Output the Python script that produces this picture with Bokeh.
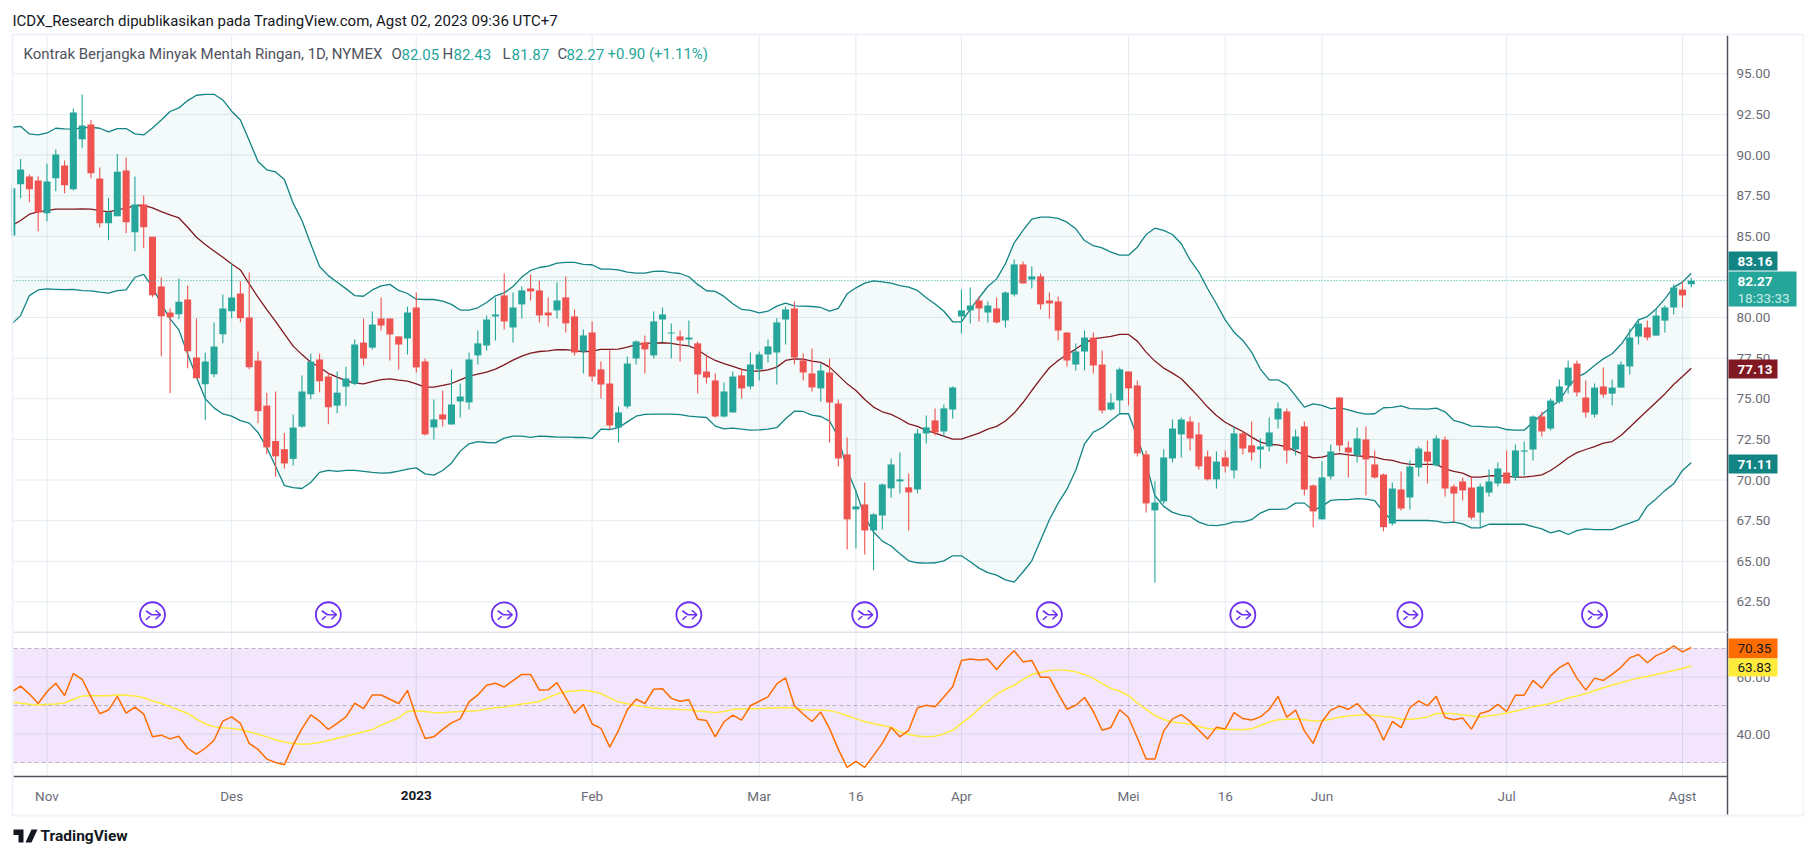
from bokeh.plotting import figure
from bokeh.models import (Range1d, FixedTicker, NumeralTickFormatter, BoxAnnotation, Label,
                          PolyAnnotation, LinearAxis)
from bokeh.embed import file_html
from bokeh.resources import INLINE
import numpy as np

# ---------- data (first value = partly hidden candle at left edge) ----------
opens = [85.05,
 88.21,88.68,88.43,86.42,88.57,89.35,87.90,90.97,91.88,88.55,
 85.81,86.24,89.05,85.25,86.95,84.98,81.91,80.31,80.20,81.11,
 77.54,75.90,76.51,78.97,80.39,81.48,80.00,77.35,74.58,72.40,
 71.90,71.30,73.29,75.28,77.42,76.37,74.58,75.75,75.92,78.46,
 78.15,79.94,79.94,78.84,78.71,80.62,77.30,73.24,74.04,73.42,
 74.84,74.78,77.67,78.28,80.07,81.36,79.39,80.81,81.79,81.67,
 80.31,80.44,81.24,80.07,77.91,79.08,76.81,75.94,73.24,74.53,
 77.48,78.47,77.67,79.88,79.02,78.84,78.65,78.41,76.68,76.13,
 73.91,74.16,76.44,75.76,76.81,77.73,77.85,79.88,80.56,77.36,
 76.56,75.64,76.62,74.71,71.58,68.19,68.50,66.90,67.82,69.49,
 69.92,69.55,69.42,72.87,73.67,72.99,74.34,80.07,80.44,81.05,
 80.31,80.56,79.82,81.42,83.27,82.34,82.53,81.05,80.99,79.08,
 77.11,77.91,78.77,77.11,74.34,74.90,76.68,75.82,71.58,68.13,
 68.69,71.33,72.81,73.60,72.81,71.45,70.04,71.39,70.59,72.87,
 72.13,71.88,72.07,73.73,74.22,71.88,73.30,69.67,67.58,70.22,
 75.08,72.00,71.51,72.50,70.96,70.34,67.32,69.42,68.93,70.77,
 71.75,70.89,72.49,69.60,69.91,69.54,68.00,69.23,69.79,70.46,
 70.16,71.75,71.88,73.91,73.17,74.83,75.82,77.17,75.08,74.03,
 75.76,75.32,75.69,76.99,78.83,79.39,78.89,79.81,80.62,81.72,82.05]
closes = [87.95,
 89.11,87.90,86.46,88.37,90.03,88.14,92.62,91.82,88.88,85.81,
 86.48,88.98,85.87,86.95,85.56,81.37,80.08,80.02,80.98,77.93,
 76.27,77.29,78.22,80.55,81.23,79.96,76.94,74.24,72.01,71.46,
 71.02,73.23,75.45,77.29,76.08,74.48,75.38,76.25,78.34,77.48,
 79.57,79.51,78.96,78.34,80.31,76.93,72.81,73.73,73.73,74.65,
 75.14,77.42,78.41,79.88,80.19,79.76,80.62,81.67,81.61,80.13,
 80.13,81.05,79.64,77.85,78.90,76.37,75.88,73.36,74.16,77.17,
 78.53,78.04,79.76,80.19,79.08,78.59,78.77,76.50,76.31,73.91,
 75.45,76.37,75.64,77.11,77.73,78.22,79.70,80.50,77.54,76.62,
 75.70,76.74,74.77,71.33,67.58,68.38,66.90,67.89,69.73,70.96,
 70.04,69.24,72.87,73.24,72.93,74.41,75.70,80.44,80.74,80.56,
 80.74,79.70,81.54,83.27,82.10,82.53,80.81,80.87,79.20,77.36,
 77.91,78.77,77.05,74.28,74.77,76.81,75.64,71.64,68.56,68.62,
 71.39,73.17,73.73,72.56,70.84,70.04,71.14,70.84,72.87,71.94,
 71.70,72.07,72.93,74.41,71.82,72.68,69.42,68.07,70.16,71.76,
 72.13,71.70,72.56,71.27,70.16,67.10,69.48,68.25,70.83,71.94,
 71.14,72.56,69.48,69.17,69.36,67.69,69.60,69.91,70.71,69.79,
 71.82,71.82,73.91,72.99,74.89,75.76,76.92,75.39,74.16,75.69,
 75.26,75.69,77.11,78.77,79.63,78.77,80.12,80.62,81.85,81.36,82.27]
highs = [88.20,
 89.76,88.80,88.68,89.46,90.34,89.66,92.86,93.72,92.16,89.23,
 87.38,90.07,89.85,88.68,87.51,84.98,82.46,80.55,82.40,81.97,
 79.94,77.85,79.69,81.42,83.34,82.24,82.77,77.91,75.38,75.45,
 72.90,74.03,76.43,77.78,77.78,76.62,76.68,76.98,78.65,79.94,
 80.37,81.24,79.94,78.84,80.68,81.54,77.48,74.96,75.51,76.81,
 75.94,77.85,79.20,80.13,81.24,82.71,81.54,81.91,82.65,82.28,
 81.24,82.16,82.53,80.50,79.27,79.76,77.30,77.97,74.53,77.61,
 78.59,78.90,80.37,80.62,79.64,79.20,79.82,78.53,77.73,76.56,
 76.00,76.68,76.87,77.85,77.91,78.65,79.95,80.68,80.99,77.79,
 78.10,77.17,77.48,74.96,72.62,69.36,69.85,67.95,69.79,71.33,
 71.70,70.41,73.12,73.97,74.41,74.65,75.76,81.73,81.85,81.30,
 80.99,81.24,81.61,83.57,83.45,83.14,82.71,81.54,81.30,79.08,
 78.41,79.20,79.08,77.97,75.33,76.93,76.68,76.13,71.82,69.92,
 71.89,73.73,73.85,73.91,73.54,71.82,71.76,71.82,73.30,72.99,
 73.60,72.56,73.85,74.77,74.41,73.11,73.60,69.73,71.15,72.19,
 75.08,72.37,73.24,73.30,71.82,70.40,69.85,70.52,71.20,72.06,
 72.43,72.74,72.68,69.72,70.16,70.22,69.79,70.65,71.08,71.82,
 72.19,72.37,73.97,74.22,75.02,76.19,77.36,77.36,76.13,75.94,
 76.92,76.19,77.29,79.32,79.94,79.82,80.56,80.74,82.03,82.22,82.43]
lows = [84.90,
 87.34,87.10,85.31,85.93,87.77,87.65,87.82,90.42,88.57,85.56,
 84.76,86.24,85.19,84.08,84.27,81.25,77.62,75.34,79.90,76.88,
 76.27,73.68,76.33,78.42,79.96,79.71,76.82,73.50,71.60,70.20,
 70.70,70.90,73.23,74.97,75.41,73.44,74.11,74.54,75.84,77.05,
 78.03,79.21,77.36,76.81,77.73,76.62,72.74,72.50,73.30,73.42,
 73.85,74.34,77.11,77.97,78.59,79.27,78.47,79.94,81.05,79.70,
 79.45,79.94,79.08,77.67,76.56,76.07,75.02,73.11,72.31,74.41,
 77.11,76.56,77.48,78.47,77.48,77.30,78.22,75.33,75.94,73.85,
 73.85,74.16,75.02,75.57,76.13,77.24,75.88,78.34,77.11,76.13,
 75.45,74.84,72.31,70.84,65.73,65.79,65.42,64.44,66.96,68.93,
 69.18,66.90,69.18,72.25,72.74,72.68,73.79,79.02,79.64,79.76,
 79.70,79.64,79.39,81.30,82.10,81.79,80.50,79.94,78.59,76.99,
 76.74,76.74,76.56,74.10,74.30,74.08,74.59,71.45,68.01,63.70,
 68.54,71.08,71.39,71.82,70.65,69.97,69.48,70.47,70.10,71.57,
 71.21,70.71,71.76,73.17,71.02,71.51,69.05,67.09,67.58,70.04,
 71.76,70.16,71.08,69.05,70.10,66.85,67.20,68.13,68.19,70.22,
 69.79,70.83,68.99,67.39,68.74,67.57,67.08,68.99,69.60,69.79,
 69.97,70.28,71.20,72.68,73.05,74.71,75.33,75.14,73.85,73.85,
 75.08,74.59,75.69,76.49,78.34,78.59,78.89,79.08,80.19,80.62,81.87]
bb_upper = [91.71,
 91.77,91.30,91.24,91.36,91.65,91.61,91.59,91.67,91.71,91.65,
 91.43,91.63,91.63,91.30,91.24,91.67,92.16,92.68,92.90,93.35,
 93.68,93.74,93.74,93.39,92.70,92.16,90.89,89.60,89.09,88.96,
 88.49,87.04,85.97,84.53,83.14,82.58,82.17,81.78,81.35,81.31,
 81.70,81.95,82.04,81.67,81.48,81.13,81.11,81.11,81.01,80.81,
 80.46,80.46,80.60,80.93,81.34,81.52,81.91,82.49,82.90,83.08,
 83.16,83.35,83.39,83.39,83.27,83.25,82.98,82.98,82.94,82.80,
 82.73,82.73,82.84,82.86,82.77,82.71,82.51,82.04,81.65,81.61,
 81.30,80.85,80.50,80.44,80.29,80.39,80.70,80.89,80.72,80.70,
 80.68,80.62,80.39,80.56,81.46,81.83,82.12,82.26,82.20,82.12,
 81.97,81.87,81.67,81.22,80.83,80.39,79.74,79.74,80.50,81.22,
 81.91,82.38,83.31,84.60,85.36,86.06,86.18,86.18,86.10,85.87,
 85.46,84.74,84.42,84.29,84.03,83.84,83.84,84.33,85.11,85.50,
 85.36,85.11,84.54,83.55,82.80,81.77,80.85,79.86,79.10,78.59,
 77.87,76.83,76.17,76.17,75.86,75.18,74.49,74.69,74.59,74.40,
 74.45,74.32,74.16,74.06,74.08,74.45,74.47,74.57,74.40,74.38,
 74.36,74.42,74.20,73.67,73.52,73.32,73.30,73.26,73.26,73.11,
 73.07,73.07,73.56,74.03,74.48,74.89,75.71,76.33,76.60,77.05,
 77.46,77.77,78.34,79.10,79.86,80.06,80.53,81.15,81.87,82.18,82.73]
bb_basis = [85.66,
 85.97,86.36,86.50,86.58,86.67,86.67,86.67,86.69,86.67,86.58,
 86.50,86.63,86.73,86.89,86.91,86.75,86.52,86.32,86.13,85.56,
 84.94,84.49,84.10,83.71,83.30,82.93,82.07,81.25,80.49,79.77,
 79.00,78.24,77.72,77.25,76.94,76.57,76.33,76.12,75.96,75.92,
 76.06,76.18,76.23,76.15,76.09,75.92,75.72,75.72,75.82,75.94,
 76.17,76.39,76.52,76.64,76.83,77.09,77.38,77.63,77.81,77.91,
 77.95,78.02,78.02,77.97,77.89,77.93,78.04,78.04,78.06,78.18,
 78.34,78.41,78.43,78.45,78.41,78.32,78.26,78.02,77.65,77.36,
 77.17,76.99,76.81,76.70,76.70,76.78,76.95,77.36,77.46,77.44,
 77.32,77.24,76.95,76.44,75.92,75.51,74.96,74.49,74.20,74.04,
 73.77,73.46,73.30,73.05,72.89,72.70,72.52,72.52,72.70,72.89,
 73.13,73.30,73.63,74.12,74.77,75.51,76.23,76.91,77.36,77.73,
 78.06,78.43,78.69,78.77,78.84,78.96,78.96,78.55,77.87,77.32,
 76.89,76.58,76.23,75.68,75.10,74.49,73.97,73.56,73.26,72.99,
 72.64,72.33,72.19,72.17,72.03,71.78,71.57,71.37,71.41,71.55,
 71.62,71.55,71.49,71.45,71.41,71.27,71.21,71.06,70.96,70.96,
 70.96,70.96,70.69,70.53,70.43,70.18,70.18,70.26,70.28,70.24,
 70.18,70.18,70.24,70.32,70.59,70.96,71.37,71.69,71.88,72.06,
 72.27,72.37,72.74,73.25,73.77,74.28,74.79,75.30,75.88,76.37,76.88]
bb_lower = [79.61,
 80.12,81.35,81.70,81.76,81.74,81.72,81.74,81.66,81.64,81.56,
 81.50,81.66,81.70,82.48,82.65,81.87,80.84,79.92,79.24,77.76,
 76.33,75.00,74.44,74.07,73.93,73.66,73.50,72.93,72.00,70.83,
 69.66,69.54,69.48,69.85,70.47,70.59,70.53,70.59,70.59,70.53,
 70.47,70.43,70.45,70.55,70.67,70.75,70.38,70.30,70.59,71.04,
 71.78,72.23,72.37,72.31,72.29,72.58,72.70,72.70,72.62,72.70,
 72.68,72.64,72.64,72.62,72.62,72.56,73.13,73.11,73.22,73.58,
 73.93,74.04,74.06,74.06,74.06,74.02,73.93,73.89,73.85,73.32,
 73.15,73.20,73.13,73.07,73.09,73.13,73.22,73.77,74.24,74.22,
 73.99,73.91,73.63,72.64,70.60,69.32,67.72,66.80,66.24,65.94,
 65.47,65.03,64.91,64.89,64.91,65.03,65.34,65.34,64.97,64.58,
 64.30,64.15,63.86,63.72,64.34,65.03,66.29,67.56,68.58,69.44,
 70.60,72.23,72.95,73.22,73.67,74.08,74.08,72.64,71.00,69.05,
 68.38,68.01,67.84,67.76,67.41,67.23,67.19,67.27,67.43,67.43,
 67.56,67.97,68.19,68.19,68.23,68.58,68.58,68.13,68.38,68.75,
 68.79,68.80,68.86,68.82,68.74,68.02,67.51,67.51,67.51,67.51,
 67.51,67.47,67.37,67.41,67.30,67.06,67.06,67.28,67.28,67.28,
 67.28,67.28,67.14,67.00,66.75,66.89,66.65,66.89,67.00,66.95,
 66.95,66.95,67.16,67.35,67.55,68.39,68.84,69.35,69.77,70.59,71.06]
rsi = [54.8,
 56.8,54.0,50.7,54.8,57.8,53.5,61.2,59.2,53.0,47.1,
 48.4,53.2,47.3,49.4,47.0,39.0,39.6,38.3,39.2,35.0,
 32.9,35.0,37.8,44.5,46.0,43.7,36.7,34.6,31.2,30.0,
 29.2,36.1,41.9,46.7,44.5,41.6,43.7,46.0,50.8,48.9,
 53.7,53.7,52.2,50.7,55.3,46.0,38.4,39.0,41.6,43.9,
 45.3,51.3,53.7,57.1,57.8,56.5,58.7,60.9,60.9,55.4,
 55.5,58.0,52.7,47.3,50.4,43.5,42.0,35.4,41.3,48.5,
 52.2,50.7,55.7,55.9,52.5,51.5,52.0,45.2,44.7,39.0,
 44.3,46.6,44.9,49.9,51.5,53.0,57.6,59.7,49.9,47.0,
 44.4,47.7,41.9,34.6,28.3,30.4,28.3,32.5,36.7,42.3,
 39.0,41.3,49.2,50.1,49.6,53.0,56.6,65.8,66.3,66.0,
 66.2,62.6,66.2,69.2,65.3,65.8,59.9,59.9,54.2,48.7,
 50.1,52.8,47.9,41.3,42.3,48.5,45.8,38.7,31.2,31.2,
 41.1,45.3,46.8,44.4,41.3,38.3,42.4,41.8,47.5,45.4,
 44.9,46.0,48.6,53.2,45.9,48.4,41.1,36.7,44.3,48.4,
 49.8,48.6,50.7,47.4,44.5,37.8,44.4,42.2,49.2,51.6,
 49.9,53.2,45.8,45.0,45.6,41.7,47.2,48.1,50.4,47.9,
 53.6,53.6,58.8,56.1,60.4,63.3,65.0,59.6,55.4,59.6,
 58.8,60.9,63.4,66.7,67.9,65.0,67.5,68.8,70.9,68.8,70.35]
rsi_ma = [51.2,
 50.8,50.4,50.1,50.4,50.5,50.9,52.2,53.3,53.4,53.4,
 53.4,53.7,53.6,53.3,52.7,51.6,50.7,49.6,48.4,47.2,
 45.2,43.6,42.5,42.2,41.9,41.6,40.8,39.9,39.0,38.0,
 37.2,36.7,36.4,36.6,37.0,37.7,38.5,39.2,40.0,40.8,
 41.6,43.1,44.4,45.7,47.9,48.2,47.9,47.5,47.5,47.7,
 47.9,48.1,48.2,48.8,49.2,49.5,50.0,50.5,50.9,51.4,
 52.8,54.0,54.8,55.1,55.4,54.9,54.2,52.7,51.2,50.6,
 50.0,49.5,49.1,48.9,48.8,48.6,48.5,48.1,47.8,47.5,
 47.9,48.6,48.8,48.9,48.9,49.1,49.2,49.3,49.1,48.5,
 48.4,48.4,48.2,47.5,46.5,45.3,44.4,43.6,43.0,42.4,
 40.8,39.8,39.3,39.0,39.2,40.0,41.3,43.7,46.0,48.9,
 51.4,53.9,55.7,57.1,59.1,60.9,61.6,62.3,62.5,62.3,
 61.8,60.9,59.5,57.7,56.0,55.0,53.5,50.9,48.6,46.5,
 45.1,44.2,43.9,43.5,42.6,41.9,41.7,41.7,41.6,41.5,
 41.8,43.0,44.2,45.0,45.2,45.3,45.0,44.6,44.7,45.2,
 45.9,46.3,46.6,46.8,46.5,46.1,45.9,45.2,45.2,45.4,
 46.0,47.2,47.3,47.1,46.7,46.3,46.0,46.4,46.8,47.4,
 48.1,48.8,49.6,50.1,50.7,51.6,52.6,53.3,54.2,55.2,
 56.2,57.2,58.0,58.9,59.6,60.2,60.9,61.6,62.3,63.0,63.83]

price_ticks = [62.5,65,67.5,70,72.5,75,77.5,80,82.5,85,87.5,90,92.5,95]
rsi_ticks = [40,60]
rsi_levels = [70,50,30]
time_tick_pos = [3,24,45,65,84,95,107,126,137,148,169,189]
time_tick_labels = ["Nov","Des","","Feb","Mar","16","Apr","Mei","16","Jun","Jul","Agst"]
year_pos = 45
year_label = "2023"
split_idx = [15,35,55,76,96,117,139,158,179]
split_price = 61.71
last_close = 82.27

# ---------- style and page geometry ----------
UP,DOWN = "#26a69a","#ef5350"
GRID = "#e4ecf2"; EDGE = "#f0f3fa"; AXIS = "#50535e"; TICK = "#6a6d78"
FONT = "Roboto"
W, H = 1812, 850
FRAME_L, FRAME_R, P1_T, P1_B, P2_B, OUTER_B = 13, 1727, 35, 631, 776, 815
X0, DX = 20.1, 8.793            # page x of candle 0, pixels per candle
Y95, DY = 73.3, 16.25           # page y of price 95, pixels per price unit
Y70, DR = 648.0, 2.85           # page y of RSI 70, pixels per RSI unit
xd = lambda px: (px-X0)/DX      # page pixel -> candle index
yd = lambda py: 95-(py-Y95)/DY  # page pixel -> price
rd = lambda py: 70-(py-Y70)/DR  # page pixel -> RSI

xs = np.arange(-1, len(closes)-1)

# The frame fills the whole canvas, so that no annotation is clipped.
p = figure(width=W, height=H, x_range=Range1d(xd(0), xd(W)), y_range=Range1d(yd(H), yd(0)),
           y_axis_location="right", x_axis_location="below", toolbar_location=None, tools="",
           output_backend="svg", min_border=0, outline_line_color=None)
p.extra_y_ranges = {"rsi": Range1d(rd(H), rd(0))}
p.xgrid.visible = False; p.ygrid.visible = False

def style_axis(ax):
    ax.major_tick_line_color = None; ax.minor_tick_line_color = None
    ax.major_label_text_font = FONT; ax.major_label_text_font_size = "13.5px"
    ax.major_label_text_color = TICK

yax = p.yaxis[0]
yax.ticker = FixedTicker(ticks=price_ticks)
yax.formatter = NumeralTickFormatter(format="0.00")
yax.fixed_location = xd(FRAME_R); yax.bounds = (yd(OUTER_B), yd(P1_T))
yax.axis_line_color = AXIS; yax.axis_line_width = 1.5; yax.major_label_standoff = 3
style_axis(yax)

rax = LinearAxis(y_range_name="rsi", ticker=FixedTicker(ticks=rsi_ticks),
                 formatter=NumeralTickFormatter(format="0.00"), fixed_location=xd(FRAME_R),
                 axis_line_color=None, major_label_standoff=3)
style_axis(rax)
p.add_layout(rax, "right")

xax = p.xaxis[0]
xax.ticker = FixedTicker(ticks=time_tick_pos)
xax.major_label_overrides = dict(zip(time_tick_pos, time_tick_labels))
xax.fixed_location = yd(P2_B); xax.bounds = (xd(FRAME_L), xd(FRAME_R))
xax.axis_line_color = AXIS; xax.axis_line_width = 1.5; xax.major_label_standoff = 5
style_axis(xax)

# ---------- grid, drawn only inside the panes ----------
xl, xr = xd(FRAME_L), xd(FRAME_R)
n_t, n_p, n_r = len(time_tick_pos), len(price_ticks), len(rsi_ticks)
p.segment(time_tick_pos, [yd(P1_T)]*n_t, time_tick_pos, [yd(P2_B)]*n_t, line_color=GRID, line_width=1, level="underlay")
p.segment([xl]*n_p, price_ticks, [xr]*n_p, price_ticks, line_color=GRID, line_width=1, level="underlay")
p.segment([xl]*n_r, rsi_ticks, [xr]*n_r, rsi_ticks, line_color=GRID, line_width=1, level="underlay", y_range_name="rsi")
p.add_layout(BoxAnnotation(left=xl, right=xr, top=rsi_levels[0], bottom=rsi_levels[2], y_range_name="rsi",
                           fill_color="#8000e0", fill_alpha=0.1, line_color=None, level="underlay"))

# ---------- price pane ----------
p.varea(xs, bb_lower, bb_upper, fill_color=UP, fill_alpha=0.055)
p.line(xs, bb_upper, line_color="#138484", line_width=1.3)
p.line(xs, bb_lower, line_color="#138484", line_width=1.3)
p.line(xs, bb_basis, line_color="#801922", line_width=1.3)

o,h,l,c = map(np.array,(opens,highs,lows,closes))
up = c >= o
for mask,col in ((up,UP),(~up,DOWN)):
    p.segment(xs[mask], h[mask], xs[mask], l[mask], line_color=col, line_width=1.1)
    p.vbar(xs[mask], 0.8, o[mask], c[mask], fill_color=col, line_color=None)

p.segment([xl],[last_close],[xr],[last_close], line_color=UP, line_width=1, line_dash="1 2")

# split markers
si = np.array(split_idx); sy = np.full(len(si), split_price)
p.scatter(si, sy, marker="circle", size=25, fill_color="white", line_color="#6a2ff0", line_width=1.8)
paths = [[(-6.5,4),(-1,0),(8,0)], [(3,4.5),(8,0),(3,-4.5)], [(-6.5,-5),(-2.5,-1.5)]]
mx, my = [], []
for sx0 in split_idx:
    for path in paths:
        mx.append([sx0 + a/DX for a,b in path]); my.append([split_price + b/DY for a,b in path])
p.multi_line(mx, my, line_color="#6a2ff0", line_width=1.6)

# ---------- RSI pane ----------
for lv in rsi_levels:
    p.segment([xl],[lv],[xr],[lv], y_range_name="rsi", line_color="#787b86", line_alpha=0.5, line_width=1, line_dash="4 3")
p.line(xs, rsi_ma, y_range_name="rsi", line_color="#ffeb3b", line_width=1.5)
p.line(xs, rsi, y_range_name="rsi", line_color="#ff6d00", line_width=1.5)

# ---------- chrome ----------
def strip(left, right, top, bottom, color):
    p.add_layout(BoxAnnotation(left=xd(left), right=xd(right), top=yd(top), bottom=yd(bottom),
        fill_color=color, fill_alpha=1, line_color=None, editable=False))

def text(X, Y, s, size=13, color="#131722", bold=False):
    p.add_layout(Label(x=xd(X), y=yd(Y), text=s, text_font=FONT, text_font_size=f"{size}px",
        text_color=color, text_align="left", text_baseline="middle",
        text_font_style="bold" if bold else "normal"))

strip(0, 11, 0, H, "white")                 # hides the part of the first candle left of the frame
strip(11, 1803.5, 33, P1_T, EDGE)
strip(11, 13, 33, OUTER_B+1, EDGE)
strip(1802, 1803.5, 33, OUTER_B+1, EDGE)
strip(11, 1803.5, OUTER_B-1, OUTER_B+1, EDGE)
strip(FRAME_L, FRAME_R, P1_B, P1_B+1.5, "#e0e3eb")

# value tags
strip(FRAME_R+1, 1777, 251, 270, "#138484")
strip(FRAME_R+1, 1796, 271, 306, UP)
strip(FRAME_R+1, 1777, 359, 378, "#801922")
strip(FRAME_R+1, 1777, 454, 473, "#138484")
strip(FRAME_R+1, 1777, 638, 658, "#ff6d00")
strip(FRAME_R+1, 1777, 658, 676, "#ffeb3b")
text(1737, 261, "83.16", 13.5, "white", True)
text(1737, 281, "82.27", 13.5, "white", True)
text(1737, 297, "18:33:33", 13.5, "#c8ece7")
text(1737, 369, "77.13", 13.5, "white", True)
text(1737, 464, "71.11", 13.5, "white", True)
text(1737, 648, "70.35", 13.5, "#131722")
text(1737, 667, "63.83", 13.5, "#131722")

# header and legend
text(12, 20, "ICDX_Research dipublikasikan pada TradingView.com, Agst 02, 2023 09:36 UTC+7", 15)
text(23, 53.5, "Kontrak Berjangka Minyak Mentah Ringan, 1D, NYMEX", 15, "#50535e")
for X,s,col in [(391,"O","#50535e"),(401,"82.05",UP),(442,"H","#50535e"),(453,"82.43",UP),
                (502,"L","#50535e"),(511,"81.87",UP),(557,"C","#50535e"),(566,"82.27",UP),
                (607,"+0.90 (+1.11%)",UP)]:
    text(X, 53.5, s, 15, col)

# bold year tick
p.add_layout(Label(x=year_pos, y=yd(795), text=year_label, text_font=FONT, text_font_size="13.5px",
    text_font_style="bold", text_color="#131722", text_align="center", text_baseline="middle"))

# footer logo and name
for pts in ([(13,829),(23,829),(23,842),(18,842),(18,834.5),(13,834.5)],
            [(31,829),(37,829),(31,842),(25,842)]):
    p.add_layout(PolyAnnotation(xs=[xd(a) for a,b in pts], ys=[yd(b) for a,b in pts],
        fill_color="#131722", fill_alpha=1, line_color=None, editable=False))
text(40, 835, "TradingView", 15.5, "#131722", True)

open("out.html","w").write(file_html(p, INLINE))
